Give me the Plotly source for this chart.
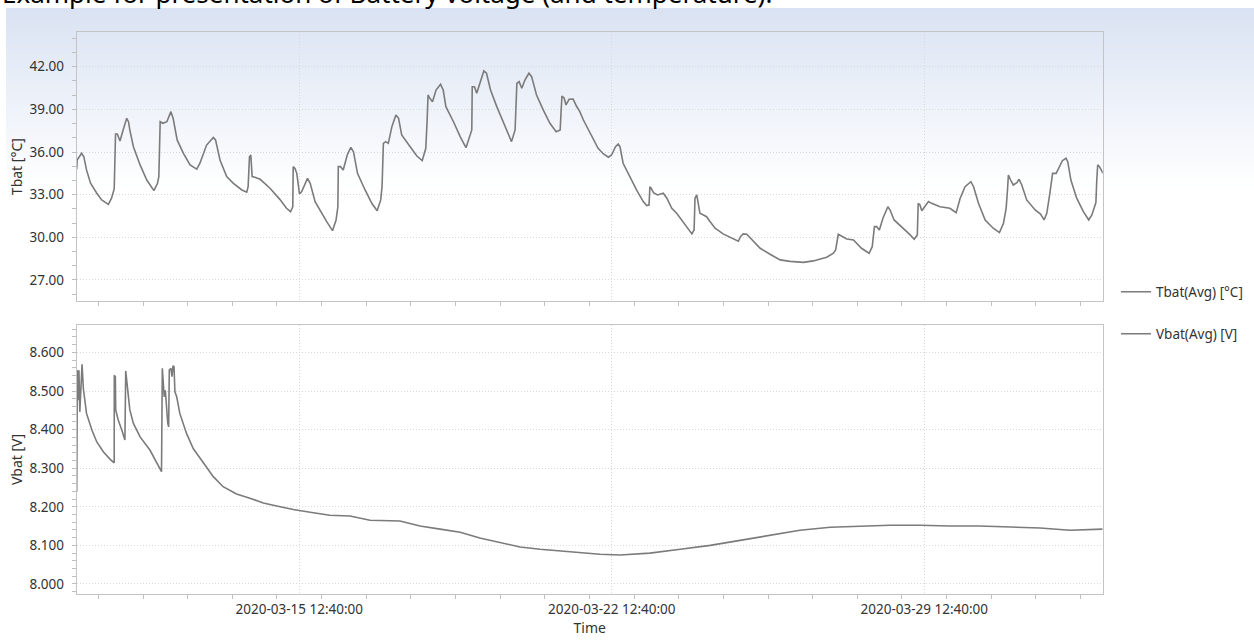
import pandas as pd
import plotly.graph_objects as go

# ---------------- data ----------------
START = "2020-03-10 13:00"

# battery temperature: days since START, value in °C
t_days = [0.00, 0.01, 0.11, 0.16, 0.22, 0.31, 0.45, 0.56, 0.71, 0.78, 0.84, 0.87, 0.91, 0.97, 1.04, 1.12,
          1.16, 1.19, 1.27, 1.42, 1.57, 1.73, 1.81, 1.84, 1.87, 1.93, 2.02, 2.11, 2.16, 2.25, 2.39, 2.54,
          2.69, 2.76, 2.91, 3.06, 3.11, 3.21, 3.36, 3.51, 3.70, 3.81, 3.84, 3.87, 3.90, 3.93, 3.99, 4.11,
          4.33, 4.55, 4.70, 4.79, 4.84, 4.85, 4.89, 4.93, 4.99, 5.04, 5.17, 5.23, 5.34, 5.45, 5.60, 5.73,
          5.81, 5.85, 5.86, 5.91, 5.97, 6.06, 6.14, 6.20, 6.29, 6.46, 6.61, 6.73, 6.81, 6.84, 6.87, 6.92,
          6.98, 7.06, 7.15, 7.21, 7.28, 7.47, 7.62, 7.74, 7.82, 7.85, 7.87, 7.91, 7.97, 8.05, 8.15, 8.21,
          8.27, 8.44, 8.59, 8.72, 8.81, 8.85, 8.86, 8.91, 8.96, 9.02, 9.12, 9.18, 9.27, 9.41, 9.59, 9.74,
          9.82, 9.84, 9.86, 9.91, 9.97, 10.04, 10.13, 10.19, 10.30, 10.45, 10.60, 10.74, 10.83, 10.85, 10.87,
          10.92, 10.96, 11.03, 11.12, 11.20, 11.27, 11.35, 11.50, 11.68, 11.80, 11.91, 11.98, 12.07, 12.13,
          12.17, 12.24, 12.39, 12.54, 12.69, 12.77, 12.82, 12.84, 12.86, 12.92, 13.01, 13.07, 13.14, 13.22,
          13.33, 13.44, 13.55, 13.68, 13.78, 13.83, 13.85, 13.89, 13.92, 13.96, 14.04, 14.11, 14.19, 14.30,
          14.48, 14.71, 14.82, 14.87, 14.93, 15.01, 15.12, 15.31, 15.53, 15.76, 15.98, 16.28, 16.50, 16.65,
          16.80, 16.95, 17.00, 17.06, 17.14, 17.25, 17.40, 17.58, 17.75, 17.82, 17.87, 17.92, 17.98, 18.06,
          18.17, 18.22, 18.31, 18.52, 18.67, 18.76, 18.83, 18.85, 18.89, 18.93, 19.00, 19.08, 19.15, 19.34,
          19.56, 19.70, 19.79, 19.90, 20.03, 20.09, 20.20, 20.35, 20.53, 20.67, 20.76, 20.82, 20.85, 20.87,
          20.92, 20.98, 21.06, 21.11, 21.17, 21.28, 21.47, 21.59, 21.67, 21.73, 21.80, 21.86, 21.94, 22.01,
          22.08, 22.16, 22.20, 22.27, 22.40, 22.55, 22.67, 22.74, 22.83, 22.85, 22.87, 22.91, 22.95, 22.99]
t_vals = [34.79, 35.44, 35.91, 35.67, 34.74, 33.80, 33.10, 32.63, 32.32, 32.75, 33.40, 37.27, 37.27, 36.77, 37.55, 38.37,
          38.13, 37.55, 36.37, 35.09, 34.03, 33.28, 33.80, 34.27, 38.13, 38.02, 38.13, 38.84, 38.37, 36.85, 35.91, 35.09,
          34.79, 35.21, 36.49, 37.03, 36.85, 35.44, 34.27, 33.80, 33.33, 33.17, 33.56, 35.67, 35.79, 34.27, 34.22, 34.08,
          33.45, 32.67, 32.04, 31.80, 32.15, 34.97, 34.85, 34.50, 33.05, 33.21, 34.15, 33.80, 32.51, 31.87, 31.10, 30.47,
          31.22, 32.15, 34.97, 34.97, 34.74, 35.79, 36.33, 36.02, 34.50, 33.33, 32.39, 31.87, 32.63, 33.56, 36.61, 36.73,
          36.61, 37.78, 38.60, 38.37, 37.20, 36.37, 35.72, 35.39, 36.26, 38.25, 40.01, 39.78, 39.54, 40.36, 40.76, 40.36,
          39.19, 38.13, 37.08, 36.30, 37.08, 37.55, 40.59, 40.59, 40.13, 40.71, 41.70, 41.54, 40.36, 39.19, 37.83, 36.73,
          37.55, 39.89, 40.83, 40.95, 40.48, 41.06, 41.54, 41.30, 40.01, 38.96, 38.02, 37.43, 37.55, 38.84, 39.94,
          39.78, 39.31, 39.71, 39.72, 39.20, 38.84, 38.25, 37.32, 36.26, 35.86, 35.63, 35.79, 36.37, 36.56,
          36.37, 35.21, 34.27, 33.33, 32.51, 32.23, 32.27, 33.56, 33.49, 33.14, 32.98, 33.05, 33.10, 32.75,
          32.04, 31.69, 31.22, 30.64, 30.24, 30.52, 32.75, 32.98, 32.39, 31.69, 31.57, 31.45, 31.10, 30.64,
          30.24, 29.88, 29.72, 30.05, 30.24, 30.21, 29.86, 29.23, 28.81, 28.41, 28.31, 28.24, 28.34, 28.45,
          28.60, 28.88, 29.11, 30.21, 30.05, 29.88, 29.81, 29.23, 28.88, 29.34, 30.75, 30.75, 30.52, 31.34,
          32.15, 31.92, 31.22, 30.64, 30.17, 29.86, 30.17, 32.39, 32.27, 31.87, 32.15, 32.51, 32.39, 32.15,
          32.04, 31.73, 32.75, 33.56, 33.91, 33.56, 32.39, 31.22, 30.64, 30.33, 30.99, 32.04, 33.33, 34.38,
          34.03, 33.68, 33.84, 34.08, 33.68, 32.63, 31.92, 31.64, 31.22, 31.69, 33.10, 34.50, 34.50, 34.97,
          35.39, 35.56, 35.32, 34.03, 32.75, 31.80, 31.22, 31.57, 32.44, 34.03, 35.09, 34.97, 34.74, 34.50]

# battery voltage: days since START, value in V
v_days = [0.000, 0.005, 0.010, 0.015, 0.020, 0.035, 0.050, 0.070, 0.096, 0.120, 0.135, 0.148, 0.22, 0.34,
          0.45, 0.60, 0.75, 0.84, 0.842, 0.865, 0.874, 0.93, 1.01, 1.08, 1.098, 1.12, 1.16, 1.19, 1.27,
          1.42, 1.64, 1.90, 1.918, 1.96, 1.985, 2.016, 2.04, 2.06, 2.074, 2.11, 2.135, 2.157, 2.18, 2.20,
          2.24, 2.31, 2.46, 2.61, 2.84, 3.06, 3.28, 3.58, 3.88, 4.18, 4.48, 4.85, 5.23, 5.67, 6.12, 6.57,
          7.24, 7.69, 8.14, 8.59, 9.03, 9.48, 9.93, 10.38, 10.83, 11.27, 11.72, 12.17, 12.84, 13.52, 14.19,
          14.86, 15.53, 16.20, 16.88, 17.54, 18.22, 18.89, 19.56, 20.23, 20.91, 21.58, 22.25, 22.92, 22.98]
v_vals = [8.239, 8.355, 8.459, 8.554, 8.550, 8.476, 8.554, 8.446, 8.502, 8.569, 8.537, 8.507, 8.442, 8.399,
          8.368, 8.342, 8.323, 8.314, 8.541, 8.537, 8.451, 8.425, 8.399, 8.373, 8.552, 8.528, 8.485, 8.451, 8.416,
          8.381, 8.347, 8.291, 8.559, 8.485, 8.502, 8.433, 8.416, 8.407, 8.554, 8.559, 8.537, 8.565, 8.563, 8.498,
          8.485, 8.442, 8.390, 8.351, 8.312, 8.278, 8.252, 8.233, 8.222, 8.210, 8.202, 8.193, 8.186, 8.178, 8.176, 8.165,
          8.163, 8.150, 8.142, 8.134, 8.119, 8.108, 8.096, 8.090, 8.085, 8.082, 8.077, 8.075, 8.080, 8.090, 8.100,
          8.113, 8.126, 8.139, 8.147, 8.150, 8.152, 8.152, 8.150, 8.150, 8.147, 8.145, 8.139, 8.142, 8.142]

t_tick_labels = ["27.00", "30.00", "33.00", "36.00", "39.00", "42.00"]
v_tick_labels = ["8.000", "8.100", "8.200", "8.300", "8.400", "8.500", "8.600"]

TITLE = "Example for presentation of Battery voltage (and temperature)."
T_NAME = "Tbat(Avg) [°C]"
V_NAME = "Vbat(Avg) [V]"

# ---------------- figure ----------------
W, H = 1254, 641
start = pd.Timestamp(START)
t_time = start + pd.to_timedelta(t_days, unit="D")
v_time = start + pd.to_timedelta(v_days, unit="D")

FONT = "Noto Sans, Open Sans, sans-serif"
TXT = "#333333"
LINE = "#7b7b7b"
GRID = "#d9d9d9"
FRAME = "#c4c4c4"
DOTS = "1px,2px"

def px_x(p):
    return p / W

def px_y(p):
    return 1 - p / H

fig = go.Figure()
fig.add_trace(go.Scatter(x=t_time, y=t_vals, mode="lines", name=T_NAME, showlegend=True,
                         line=dict(color=LINE, width=1.6), xaxis="x2", yaxis="y2", legend="legend"))
fig.add_trace(go.Scatter(x=v_time, y=v_vals, mode="lines", name=V_NAME, showlegend=True,
                         line=dict(color=LINE, width=1.6), xaxis="x", yaxis="y", legend="legend2"))

# background gradient (light blue fading to white), drawn as thin bands
shapes = []
g_top, g_bot = 8, 190
n = 60
c0 = (218, 227, 243)
for i in range(n):
    f = i / (n - 1)
    col = tuple(round(c0[k] + (255 - c0[k]) * f) for k in range(3))
    y0 = g_top + (g_bot - g_top) * i / n
    y1 = g_top + (g_bot - g_top) * (i + 1) / n + 0.8
    shapes.append(dict(type="rect", xref="paper", yref="paper", layer="below",
                       x0=px_x(6), x1=1.0, y0=px_y(y1), y1=px_y(y0),
                       fillcolor="rgb(%d,%d,%d)" % col, line=dict(width=0)))

x_dom = [px_x(76.7), px_x(1102.7)]
x_range = ["2020-03-10 13:00", "2020-04-02 12:35"]
DAY = 86400000

xcommon = dict(type="date", range=x_range, domain=x_dom, tick0="2020-03-15 12:40", dtick=7 * DAY,
               showgrid=True, gridcolor=GRID, griddash=DOTS, gridwidth=1,
               showline=True, linecolor=FRAME, linewidth=1, mirror=True, zeroline=False,
               ticks="", tickfont=dict(family=FONT, size=13.5, color=TXT),
               minor=dict(tick0="2020-03-15 00:40", dtick=DAY, ticks="outside", ticklen=4,
                          tickcolor="#bfbfbf", showgrid=False))

ycommon = dict(showgrid=True, gridcolor=GRID, griddash=DOTS, gridwidth=1,
               showline=True, linecolor=FRAME, linewidth=1, mirror=True, zeroline=False,
               ticks="outside", ticklen=4, tickcolor="#bfbfbf",
               tickfont=dict(family=FONT, size=13.5, color=TXT), ticklabelstandoff=5)

fig.update_layout(
    width=W, height=H, autosize=False, showlegend=True,
    margin=dict(l=0, r=0, t=0, b=0),
    paper_bgcolor="white", plot_bgcolor="rgba(0,0,0,0)",
    font=dict(family=FONT, size=13.5, color=TXT),
    shapes=shapes,
    xaxis=dict(xcommon, anchor="y", tickformat="%Y-%m-%d %H:%M:%S", showticklabels=True,
               ticklabelstandoff=3,
               title=dict(text="Time", standoff=4, font=dict(family=FONT, size=14, color=TXT))),
    xaxis2=dict(xcommon, anchor="y2", matches="x", showticklabels=False),
    yaxis=dict(ycommon, anchor="x", domain=[px_y(594), px_y(325)], range=[7.974, 8.671],
               tickmode="array", tickvals=[float(s) for s in v_tick_labels], ticktext=v_tick_labels,
               minor=dict(dtick=0.02, tick0=8.0, ticks="outside", ticklen=4, tickcolor="#bfbfbf", showgrid=False),
               title=dict(text="Vbat [V]", standoff=3, font=dict(family=FONT, size=14, color=TXT))),
    yaxis2=dict(ycommon, anchor="x2", domain=[px_y(301), px_y(32.3)], range=[25.52, 44.42],
                tickmode="array", tickvals=[float(s) for s in t_tick_labels], ticktext=t_tick_labels,
                minor=dict(dtick=1, tick0=27, ticks="outside", ticklen=4, tickcolor="#bfbfbf", showgrid=False),
                title=dict(text="Tbat [°C]", standoff=3, font=dict(family=FONT, size=14, color=TXT))),
    legend=dict(visible=True, x=px_x(1116), y=px_y(292), xanchor="left", yanchor="middle",
                bgcolor="rgba(0,0,0,0)", font=dict(family=FONT, size=13.5, color=TXT)),
    legend2=dict(visible=True, x=px_x(1116), y=px_y(334), xanchor="left", yanchor="middle",
                 bgcolor="rgba(0,0,0,0)", font=dict(family=FONT, size=13.5, color=TXT)),
    annotations=[dict(text=TITLE, xref="paper", yref="paper", x=0, y=px_y(13.5), xanchor="left",
                      yanchor="bottom", showarrow=False,
                      font=dict(family=FONT, size=26, color="#000000"))],
)

fig.write_html("out.html")
